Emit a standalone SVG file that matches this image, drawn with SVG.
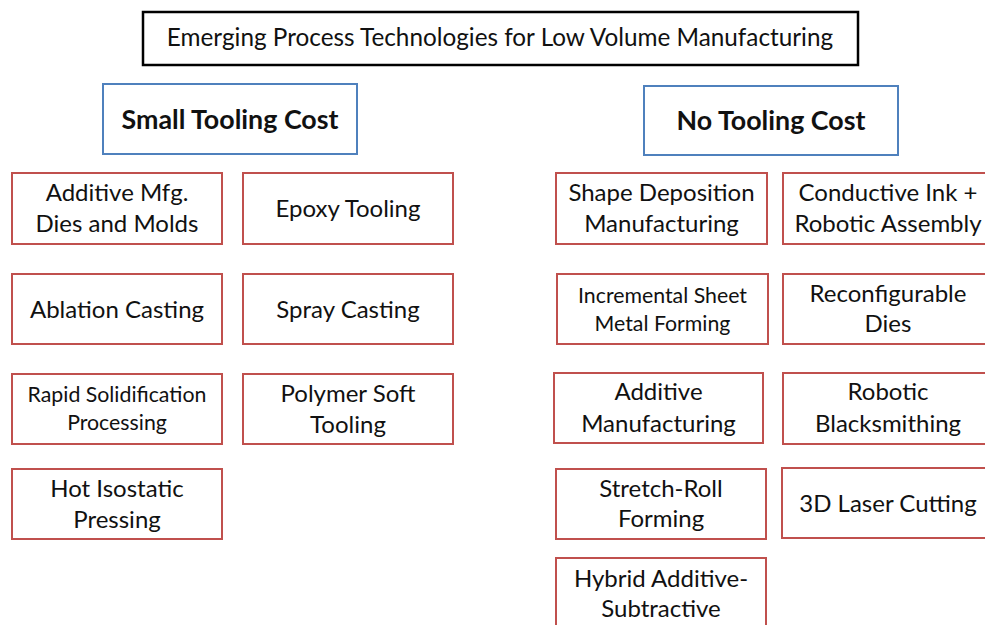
<svg xmlns="http://www.w3.org/2000/svg" width="985" height="625" viewBox="0 0 985 625">
  <style>
    .bg { fill: #ffffff; }
    .title { fill: #ffffff; stroke: #000000; stroke-width: 2.5; }
    .cat { fill: #ffffff; stroke: #4f81bd; stroke-width: 2; }
    .item { fill: #ffffff; stroke: #c0504d; stroke-width: 2; }
    text { font-family: Lato, "Open Sans", "Liberation Sans", sans-serif; fill: #111111; text-anchor: middle; }
    .t-title { font-size: 24.3px; }
    .t-cat { font-size: 26.8px; font-weight: bold; }
    .t-item { font-size: 24px; }
    .t-small { font-size: 21.3px; }
  </style>

  <rect class="bg" x="0" y="0" width="985" height="625"/>

  <!-- heading -->
  <g id="title">
    <rect class="title" x="143" y="12" width="715" height="53"/>
    <text class="t-title" x="500" y="46">Emerging Process Technologies for Low Volume Manufacturing</text>
  </g>

  <!-- category headers -->
  <g id="small-tooling">
    <rect class="cat" x="103" y="84" width="254" height="70"/>
    <text class="t-cat" x="230" y="129">Small Tooling Cost</text>
  </g>
  <g id="no-tooling">
    <rect class="cat" x="644" y="86" width="254" height="69"/>
    <text class="t-cat" x="771" y="130">No Tooling Cost</text>
  </g>

  <!-- small tooling cost: left column -->
  <g id="additive-dies">
    <rect class="item" x="12" y="173" width="210" height="71"/>
    <text class="t-item" x="117" y="201">Additive Mfg.</text>
    <text class="t-item" x="117" y="232">Dies and Molds</text>
  </g>
  <g id="ablation-casting">
    <rect class="item" x="12" y="274" width="210" height="70"/>
    <text class="t-item" x="117" y="318">Ablation Casting</text>
  </g>
  <g id="rapid-solidification">
    <rect class="item" x="12" y="374" width="210" height="70"/>
    <text class="t-small" x="117" y="402">Rapid Solidification</text>
    <text class="t-small" x="117" y="430">Processing</text>
  </g>
  <g id="hot-isostatic">
    <rect class="item" x="12" y="469" width="210" height="70"/>
    <text class="t-item" x="117" y="497">Hot Isostatic</text>
    <text class="t-item" x="117" y="528">Pressing</text>
  </g>

  <!-- small tooling cost: right column -->
  <g id="epoxy-tooling">
    <rect class="item" x="243" y="173" width="210" height="71"/>
    <text class="t-item" x="348" y="217">Epoxy Tooling</text>
  </g>
  <g id="spray-casting">
    <rect class="item" x="243" y="274" width="210" height="70"/>
    <text class="t-item" x="348" y="318">Spray Casting</text>
  </g>
  <g id="polymer-soft">
    <rect class="item" x="243" y="374" width="210" height="70"/>
    <text class="t-item" x="348" y="402">Polymer Soft</text>
    <text class="t-item" x="348" y="433">Tooling</text>
  </g>

  <!-- no tooling cost: left column -->
  <g id="shape-deposition">
    <rect class="item" x="556" y="173" width="211" height="71"/>
    <text class="t-item" x="661.5" y="201">Shape Deposition</text>
    <text class="t-item" x="661.5" y="232">Manufacturing</text>
  </g>
  <g id="incremental-sheet">
    <rect class="item" x="557" y="274" width="211" height="70"/>
    <text class="t-small" x="662.5" y="303">Incremental Sheet</text>
    <text class="t-small" x="662.5" y="331">Metal Forming</text>
  </g>
  <g id="additive-manufacturing">
    <rect class="item" x="554" y="373" width="209" height="70"/>
    <text class="t-item" x="658.5" y="400">Additive</text>
    <text class="t-item" x="658.5" y="432">Manufacturing</text>
  </g>
  <g id="stretch-roll">
    <rect class="item" x="556" y="469" width="210" height="70"/>
    <text class="t-item" x="661" y="497">Stretch-Roll</text>
    <text class="t-item" x="661" y="527">Forming</text>
  </g>
  <g id="hybrid">
    <rect class="item" x="556" y="558" width="210" height="80"/>
    <text class="t-item" x="661" y="587">Hybrid Additive-</text>
    <text class="t-item" x="661" y="617">Subtractive</text>
  </g>

  <!-- no tooling cost: right column (runs past the right edge) -->
  <g id="conductive-ink">
    <rect class="item" x="783" y="173" width="212" height="71"/>
    <text class="t-item" x="888" y="201">Conductive Ink +</text>
    <text class="t-item" x="888" y="232">Robotic Assembly</text>
  </g>
  <g id="reconfigurable-dies">
    <rect class="item" x="783" y="274" width="212" height="70"/>
    <text class="t-item" x="888" y="302">Reconfigurable</text>
    <text class="t-item" x="888" y="332">Dies</text>
  </g>
  <g id="robotic-blacksmithing">
    <rect class="item" x="783" y="373" width="212" height="71"/>
    <text class="t-item" x="888" y="400">Robotic</text>
    <text class="t-item" x="888" y="432">Blacksmithing</text>
  </g>
  <g id="laser-cutting">
    <rect class="item" x="782" y="468" width="213" height="70"/>
    <text class="t-item" x="888" y="512">3D Laser Cutting</text>
  </g>
</svg>
